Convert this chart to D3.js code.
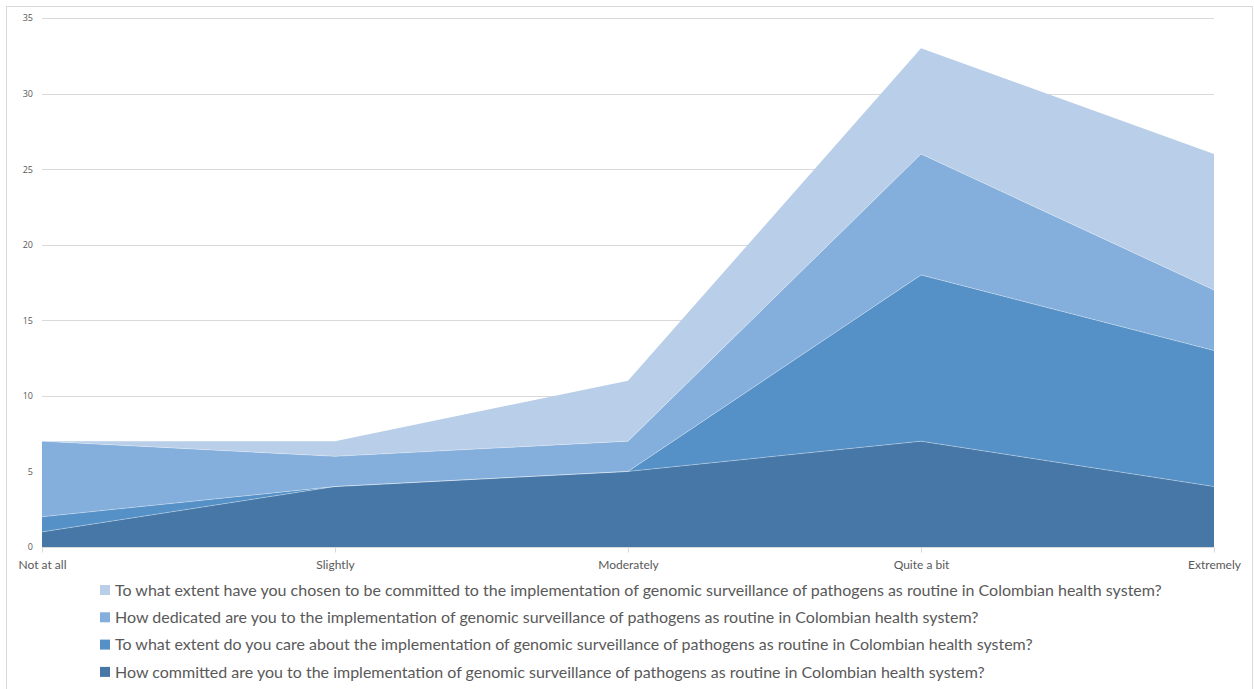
<!DOCTYPE html>
<html>
<head>
<meta charset="utf-8">
<script src="https://cdn.jsdelivr.net/npm/d3@7"></script>
<style>
  html, body { margin: 0; padding: 0; background: #fff; }
  svg { display: block; }
</style>
</head>
<body>
<svg id="chart" width="1254" height="689"></svg>
<script>
// Response scale categories
const categories = ["Not at all", "Slightly", "Moderately", "Quite a bit", "Extremely"];

// Survey questions, stacked bottom to top
const seriesNames = [
  "How committed are you to the implementation of genomic surveillance of pathogens as routine in Colombian health system?",
  "To what extent do you care about the implementation of genomic surveillance of pathogens as routine in Colombian health system?",
  "How dedicated are you to the implementation of genomic surveillance of pathogens as routine in Colombian health system?",
  "To what extent have you chosen to be committed to the implementation of genomic surveillance of pathogens as routine in Colombian health system?"
];

// Respondent counts per category
const committed = [1, 4, 5, 7, 4];
const care = [1, 0, 0, 11, 9];
const dedicated = [5, 2, 2, 8, 4];
const chosen = [0, 1, 4, 7, 9];

const yTicks = [0, 5, 10, 15, 20, 25, 30, 35];
const colors = ["#4677a7", "#5591c7", "#84aedb", "#b9cee8"];

const seriesValues = [committed, care, dedicated, chosen];
const keys = seriesNames;
const rows = categories.map((c, i) => {
  const r = { category: c };
  keys.forEach((k, j) => { r[k] = seriesValues[j][i]; });
  return r;
});

const svg = d3.select("#chart");
const margin = { left: 42, right: 40, top: 18, bottom: 142 };
const W = 1254, H = 689;

// Outer chart frame
svg.append("rect")
  .attr("x", 6.5).attr("y", 6.5)
  .attr("width", W - 8).attr("height", H)
  .attr("fill", "#fff").attr("stroke", "#d9d9d9").attr("stroke-width", 1);

const x = d3.scalePoint().domain(categories).range([margin.left, W - margin.right]);
const y = d3.scaleLinear().domain([0, 35]).range([H - margin.bottom, margin.top]);

// Horizontal gridlines
svg.append("g")
  .selectAll("line")
  .data(yTicks.filter(t => t > 0))
  .join("line")
  .attr("x1", margin.left).attr("x2", W - margin.right)
  .attr("y1", d => Math.round(y(d)) + 0.5).attr("y2", d => Math.round(y(d)) + 0.5)
  .attr("stroke", "#d9d9d9").attr("stroke-width", 1);

const stacked = d3.stack().keys(keys)(rows);

const area = d3.area()
  .x(d => x(d.data.category))
  .y0(d => y(d[0]))
  .y1(d => y(d[1]));

svg.append("g")
  .selectAll("path")
  .data(stacked)
  .join("path")
  .attr("d", area)
  .attr("fill", (d, i) => colors[i]);

// Faint separators along each layer's upper edge
const edge = d3.line().x(d => x(d.data.category)).y(d => y(d[1]));
svg.append("g")
  .selectAll("path")
  .data(stacked.slice(0, 3))
  .join("path")
  .attr("d", edge)
  .attr("fill", "none")
  .attr("stroke", "#ffffff")
  .attr("stroke-opacity", 0.4)
  .attr("stroke-width", 0.8);

// Y axis labels
const yAxis = d3.axisLeft(y).tickValues(yTicks).tickSize(0).tickPadding(9);
const gy = svg.append("g").attr("transform", `translate(${margin.left},0)`).call(yAxis);
gy.select(".domain").remove();
gy.selectAll("text")
  .attr("fill", "#595959")
  .style("font-family", "'Open Sans', 'DejaVu Sans', sans-serif")
  .style("font-size", "9px");

// X axis baseline, ticks and labels
const xAxis = d3.axisBottom(x).tickSize(5).tickPadding(8);
const gx = svg.append("g").attr("transform", `translate(0,${Math.round(y(0)) + 0.5})`).call(xAxis);
gx.select(".domain").attr("stroke", "#d9d9d9").attr("d", `M${margin.left},0H${W - margin.right}`);
gx.selectAll(".tick line").attr("stroke", "#d9d9d9");
gx.selectAll("text")
  .attr("fill", "#595959")
  .style("font-family", "Lato, 'Open Sans', sans-serif")
  .style("font-size", "12px");

// Legend, top layer first
const legendItems = d3.range(keys.length).reverse();
const legend = svg.append("g").attr("transform", "translate(100,590)");
const li = legend.selectAll("g")
  .data(legendItems)
  .join("g")
  .attr("transform", (d, i) => `translate(0,${i * 27.3})`);
li.append("rect")
  .attr("x", 0).attr("y", -5)
  .attr("width", 10).attr("height", 10)
  .attr("fill", d => colors[d]);
li.append("text")
  .attr("x", 15).attr("y", 0)
  .attr("dy", "0.35em")
  .attr("fill", "#595959")
  .style("font-family", "Lato, 'Open Sans', sans-serif")
  .style("font-size", "16px")
  .text(d => keys[d]);
</script>
</body>
</html>
